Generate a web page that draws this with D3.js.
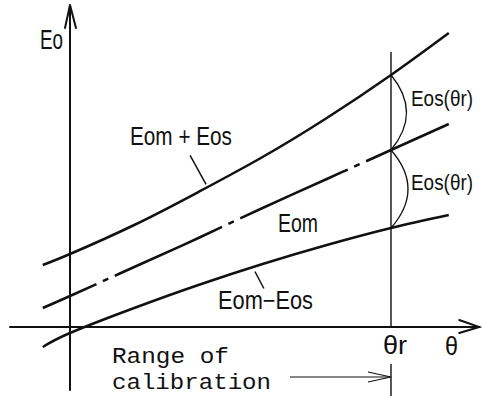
<!DOCTYPE html>
<html>
<head>
<meta charset="utf-8">
<script src="https://cdn.jsdelivr.net/npm/d3@7"></script>
<style>
  html, body { margin: 0; padding: 0; background: #fff; }
  svg { display: block; }
  .lbl { font-family: "Liberation Sans", Arial, sans-serif; fill: #111; }
  .mono { font-family: "Liberation Mono", "Courier New", monospace; fill: #111; }
</style>
</head>
<body>
<svg id="chart" width="482" height="396"></svg>
<script>
// Sample angles (θr = 1) and the output values
const theta    = [-0.085, 0, 0.2, 0.4, 0.6, 0.8, 1.0, 1.18];
const eomPlus  = [0.62, 0.73, 1.02, 1.35, 1.70, 2.09, 2.52, 2.94];   // Eom + Eos
const eom      = [0.19, 0.31, 0.60, 0.89, 1.19, 1.48, 1.77, 2.03];   // Eom
const eomMinus = [-0.20, -0.06, 0.19, 0.42, 0.63, 0.82, 0.99, 1.12]; // Eom - Eos
const thetaR = 1.0;

// Axis extents in data units
const xAxisDomain = [-0.187, 1.275];
const yAxisDomain = [-0.63, 3.22];
const thetaRLineTop = 2.75;

const svg = d3.select("#chart");
const ink = "#111";

const x = d3.scaleLinear().domain([0, 1]).range([70, 391]);
const y = d3.scaleLinear().domain([0, 3]).range([327, 27]);

const line = d3.line()
  .x(d => x(d[0]))
  .y(d => y(d[1]))
  .curve(d3.curveNatural);

const zip = vals => theta.map((t, i) => [t, vals[i]]);

// Axes
const ax = svg.append("g").attr("stroke", ink).attr("fill", "none").attr("stroke-linecap", "round");
ax.append("line")
  .attr("x1", x(0)).attr("x2", x(0))
  .attr("y1", y(yAxisDomain[0])).attr("y2", y(yAxisDomain[1]))
  .attr("stroke-width", 2);
ax.append("path")
  .attr("d", `M${x(0) - 5},${y(yAxisDomain[1]) + 23} L${x(0)},${y(yAxisDomain[1])} L${x(0) + 6},${y(yAxisDomain[1]) + 23}`)
  .attr("stroke-width", 2);
ax.append("line")
  .attr("x1", x(xAxisDomain[0])).attr("x2", x(xAxisDomain[1]))
  .attr("y1", y(0)).attr("y2", y(0))
  .attr("stroke-width", 2);
ax.append("path")
  .attr("d", `M${x(xAxisDomain[1]) - 20},${y(0) - 7} L${x(xAxisDomain[1])},${y(0)} L${x(xAxisDomain[1]) - 20},${y(0) + 6}`)
  .attr("stroke-width", 2);

// θr reference line
svg.append("line")
  .attr("x1", x(thetaR)).attr("x2", x(thetaR))
  .attr("y1", y(thetaRLineTop)).attr("y2", y(0))
  .attr("stroke", ink).attr("stroke-width", 1.4);

// Curves
svg.append("path").datum(zip(eomPlus))
  .attr("d", line).attr("fill", "none").attr("stroke", ink).attr("stroke-width", 2.5);
svg.append("path").datum(zip(eomMinus))
  .attr("d", line).attr("fill", "none").attr("stroke", ink).attr("stroke-width", 2.5);
svg.append("path").datum(zip(eom))
  .attr("d", line).attr("fill", "none").attr("stroke", ink).attr("stroke-width", 2.5)
  .attr("stroke-dasharray", "118,7,6,7").attr("stroke-dashoffset", 59);

// Braces marking Eos(θr) at θr
const iR = theta.indexOf(thetaR);
const brace = (yTop, yBot, bulge) => {
  const xr = x(thetaR);
  return `M${xr},${yTop} Q${xr + bulge},${(yTop + yBot) / 2} ${xr},${yBot}`;
};
svg.append("path")
  .attr("d", brace(y(eomPlus[iR]), y(eom[iR]), 31))
  .attr("fill", "none").attr("stroke", ink).attr("stroke-width", 1.3);
svg.append("path")
  .attr("d", brace(y(eom[iR]), y(eomMinus[iR]), 34))
  .attr("fill", "none").attr("stroke", ink).attr("stroke-width", 1.3);

// Leader lines from labels to curves
const upperAt = 0.427, lowerAt = 0.576;
const interp = (vals, t) => {
  const i = d3.bisectRight(theta, t) - 1;
  const f = (t - theta[i]) / (theta[i + 1] - theta[i]);
  return vals[i] + f * (vals[i + 1] - vals[i]);
};
{
  const px = x(upperAt), py = y(interp(eomPlus, upperAt));
  svg.append("line").attr("x1", px - 17).attr("y1", py - 32).attr("x2", px - 1).attr("y2", py - 3)
    .attr("stroke", ink).attr("stroke-width", 1.5);
}
{
  const px = x(lowerAt), py = y(interp(eomMinus, lowerAt));
  svg.append("line").attr("x1", px).attr("y1", py + 5).attr("x2", px + 9).attr("y2", py + 22)
    .attr("stroke", ink).attr("stroke-width", 1.5);
}

// Range of calibration arrow
{
  const yA = 377, xr = x(thetaR);
  svg.append("line").attr("x1", 290).attr("x2", xr - 1).attr("y1", yA).attr("y2", yA)
    .attr("stroke", ink).attr("stroke-width", 1.2);
  svg.append("path").attr("d", `M${xr - 23},${yA - 5} L${xr},${yA} L${xr - 23},${yA + 5}`)
    .attr("fill", "none").attr("stroke", ink).attr("stroke-width", 1.2);
  svg.append("line").attr("x1", xr).attr("x2", xr).attr("y1", 364).attr("y2", 396)
    .attr("stroke", ink).attr("stroke-width", 1.4);
}

// Labels
const labels = [
  { t: "Eo",        x: 40,  y: 49,  w: 23,  s: 27 },
  { t: "Eom + Eos", x: 130, y: 145, w: 102, s: 25 },
  { t: "Eom",       x: 278, y: 232, w: 40,  s: 25 },
  { t: "Eom−Eos",   x: 218, y: 309, w: 95,  s: 25 },
  { t: "Eos(θr)",   x: 411, y: 106, w: 62,  s: 22 },
  { t: "Eos(θr)",   x: 411, y: 190, w: 62,  s: 22 },
  { t: "θr",        x: 383, y: 354, w: 24,  s: 26 },
  { t: "θ",         x: 445, y: 355, w: 13,  s: 26 }
];
svg.selectAll("text.lbl").data(labels).join("text")
  .attr("class", "lbl")
  .attr("x", d => d.x).attr("y", d => d.y)
  .attr("font-size", d => d.s)
  .attr("textLength", d => d.w).attr("lengthAdjust", "spacingAndGlyphs")
  .text(d => d.t);

const monoLabels = [
  { t: "Range of",    x: 112, y: 363, w: 117 },
  { t: "calibration", x: 112, y: 389, w: 159 }
];
svg.selectAll("text.mono").data(monoLabels).join("text")
  .attr("class", "mono")
  .attr("x", d => d.x).attr("y", d => d.y)
  .attr("font-size", 22)
  .attr("textLength", d => d.w).attr("lengthAdjust", "spacingAndGlyphs")
  .text(d => d.t);
</script>
</body>
</html>
